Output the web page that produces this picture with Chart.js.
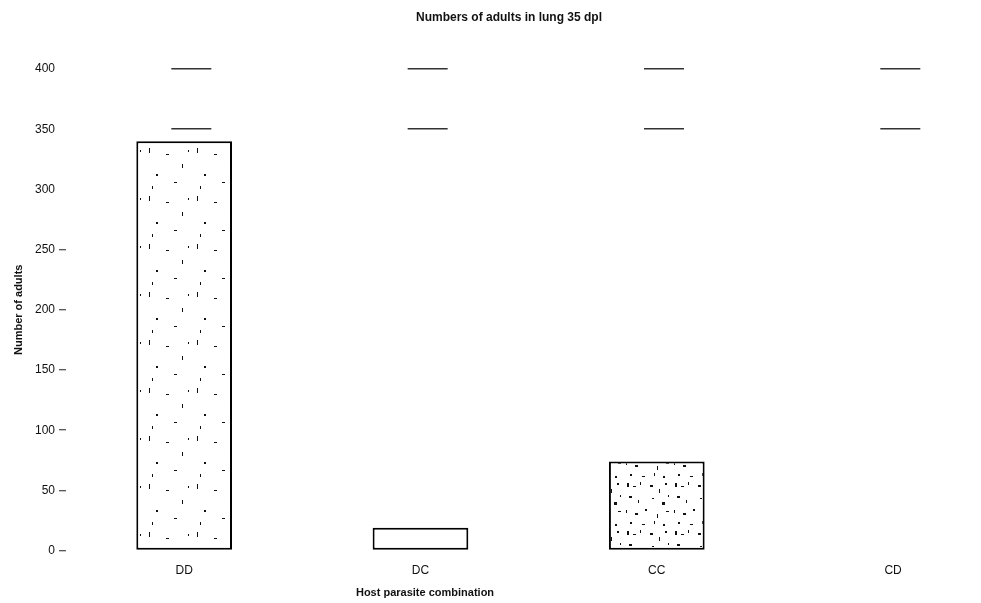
<!DOCTYPE html>
<html>
<head>
<meta charset="utf-8">
<script src="https://cdn.jsdelivr.net/npm/chart.js@4"></script>
<style>
  html, body { margin: 0; padding: 0; background: #fff; }
</style>
</head>
<body>
<canvas id="myChart" width="981" height="603"></canvas>
<script>
var groups = ["DD", "DC", "CC", "CD"];
var adults = [340, 19, 74, 0];
var yTicks = [0, 50, 100, 150, 200, 250, 300, 350, 400];

// scanned-looking speckle fill for the bars
function speckle(marks) {
  var c = document.createElement("canvas");
  c.width = 48; c.height = 48;
  var g = c.getContext("2d");
  g.fillStyle = "#fff";
  g.fillRect(0, 0, 48, 48);
  g.fillStyle = "#111";
  marks.forEach(function (m) { g.fillRect(m[0], m[1], m[2], m[3]); });
  return g.createPattern(c, "repeat");
}

var sparse = speckle([[5, 4, 1, 5], [22, 10, 3, 1], [38, 20, 1, 4], [12, 30, 2, 2], [30, 38, 3, 1], [44, 6, 1, 2], [8, 42, 1, 3]]);
var dense = speckle([[3, 3, 2, 4], [9, 6, 3, 1], [16, 2, 1, 3], [26, 5, 3, 2], [35, 9, 1, 4], [41, 3, 2, 2],
  [5, 16, 3, 2], [14, 20, 1, 3], [28, 18, 2, 1], [38, 22, 3, 3], [44, 15, 1, 2],
  [2, 30, 1, 3], [11, 33, 3, 2], [21, 29, 2, 2], [33, 34, 1, 4], [42, 31, 3, 1],
  [6, 42, 2, 2], [18, 44, 3, 1], [30, 41, 1, 3], [39, 44, 2, 2]]);
var fills = [sparse, "#fff", dense, "#fff"];

var titles = {
  id: "titles",
  afterDraw: function (chart) {
    var c = chart.ctx;
    c.save();
    c.fillStyle = "#111";
    c.textAlign = "center";
    c.textBaseline = "middle";
    c.font = "bold 12px 'Liberation Sans', Arial, sans-serif";
    c.fillText("Numbers of adults in lung 35 dpl", 509, 18);
    c.font = "bold 11px 'Liberation Sans', Arial, sans-serif";
    c.fillText("Host parasite combination", 425, 593);
    c.restore();
  }
};

var ctx = document.getElementById("myChart").getContext("2d");

var myChart = new Chart(ctx, {
  type: "bar",
  data: {
    datasets: [{
      label: "Number of adults",
      data: adults.map(function (v, i) { return { x: i, y: v }; }),
      backgroundColor: fills,
      borderColor: "#000",
      borderWidth: 2,
      borderSkipped: false,
      barPercentage: 0.405,
      categoryPercentage: 1
    }]
  },
  options: {
    responsive: false,
    animation: false,
    layout: { padding: { top: 69, right: 0, bottom: 12, left: 0 } },
    plugins: {
      legend: { display: false },
      title: { display: false },
      tooltip: { enabled: false }
    },
    scales: {
      x: {
        type: "linear",
        offset: false,
        min: -0.5,
        max: 3.372,
        afterBuildTicks: function (scale) {
          scale.ticks = groups.map(function (g, i) { return { value: i }; });
        },
        ticks: {
          callback: function (v) { return groups[v]; },
          color: "#111",
          padding: 13,
          maxRotation: 0,
          autoSkip: false,
          font: { family: "'Liberation Sans', Arial, sans-serif", size: 12 }
        },
        grid: { display: false, drawTicks: false },
        border: { display: false }
      },
      y: {
        min: 0,
        max: 400,
        afterBuildTicks: function (scale) {
          scale.ticks = yTicks.map(function (v) { return { value: v }; });
        },
        afterFit: function (scale) { scale.width = 66; },
        ticks: {
          color: "#111",
          padding: 4,
          font: { family: "'Liberation Sans', Arial, sans-serif", size: 12 }
        },
        grid: {
          drawTicks: true,
          tickLength: 7,
          lineWidth: 1.5,
          color: function (c) { return c.tick && c.tick.value >= 350 ? "#333" : "rgba(0,0,0,0)"; },
          tickColor: function (c) { return c.tick && c.tick.value <= 250 ? "#222" : "rgba(0,0,0,0)"; },
          tickWidth: 1
        },
        border: { display: false, dash: [40, 196.33], dashOffset: 131 },
        title: {
          display: true,
          text: "Number of adults",
          color: "#111",
          padding: { top: 12, bottom: 0 },
          font: { family: "'Liberation Sans', Arial, sans-serif", size: 11, weight: "bold" }
        }
      }
    }
  },
  plugins: [titles]
});
</script>
</body>
</html>
